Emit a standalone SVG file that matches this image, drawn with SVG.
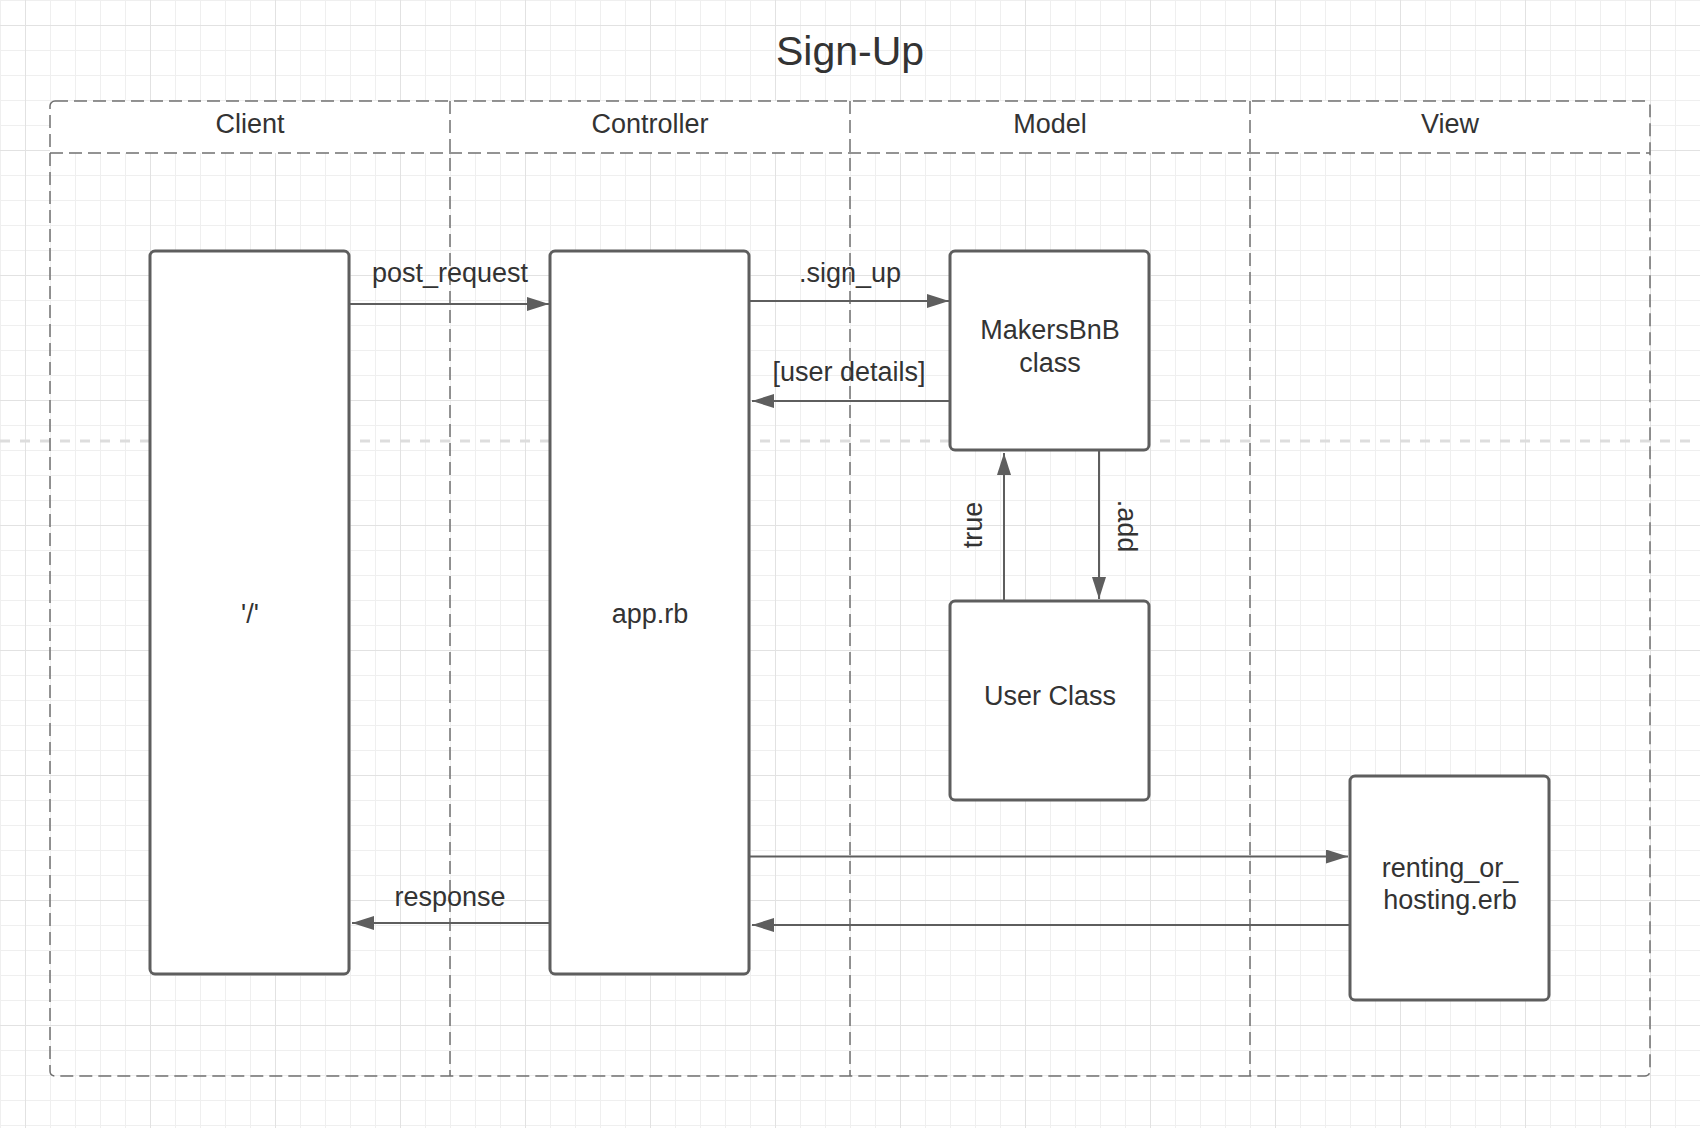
<svg xmlns="http://www.w3.org/2000/svg" width="1700" height="1128" viewBox="0 0 1700 1128">
  <defs>
    <pattern id="grid" patternUnits="userSpaceOnUse" x="0" y="0" width="125" height="125">
      <rect width="125" height="125" fill="#ffffff"/>
      <g fill="#efefef">
        <rect x="0" y="0" width="1" height="125"/>
        <rect x="50" y="0" width="1" height="125"/>
        <rect x="75" y="0" width="1" height="125"/>
        <rect x="100" y="0" width="1" height="125"/>
        <rect x="0" y="0" width="125" height="1"/>
        <rect x="0" y="50" width="125" height="1"/>
        <rect x="0" y="75" width="125" height="1"/>
        <rect x="0" y="100" width="125" height="1"/>
      </g>
      <g fill="#e2e2e2">
        <rect x="25" y="0" width="1" height="125"/>
        <rect x="0" y="25" width="125" height="1"/>
      </g>
    </pattern>
    <marker id="arrow" markerUnits="userSpaceOnUse" markerWidth="24" markerHeight="16" refX="22" refY="7" orient="auto">
      <path d="M0,0 L22,7 L0,14 z" fill="#5e5e5e"/>
    </marker>
  </defs>
  <style>
    .lbl { font-family: "Liberation Sans", Arial, sans-serif; font-size: 27px; fill: #333333; text-anchor: middle; }
    .title { font-family: "Liberation Sans", Arial, sans-serif; font-size: 41px; fill: #333333; text-anchor: middle; }
    .box { fill: #ffffff; stroke: #5e5e5e; stroke-width: 3; }
    .lane { fill: none; stroke: #707070; stroke-width: 1.5; stroke-dasharray: 13 6; }
    .conn { fill: none; stroke: #5e5e5e; stroke-width: 2; marker-end: url(#arrow); }
  </style>

  <rect x="0" y="0" width="1700" height="1128" fill="url(#grid)"/>
  <line x1="0" y1="441" x2="1700" y2="441" stroke="#dddddd" stroke-width="3" stroke-dasharray="10 10"/>

  <text class="title" x="850" y="65">Sign-Up</text>

  <g id="swimlanes">
    <path d="M50,153 V106 Q50,101 55,101 H1645 Q1650,101 1650,106 V153 Z" fill="#ffffff"/>
    <rect class="lane" x="50" y="101" width="1600" height="975" rx="5" ry="5"/>
    <line class="lane" x1="50" y1="153" x2="1650" y2="153"/>
    <line class="lane" x1="450" y1="101" x2="450" y2="1076"/>
    <line class="lane" x1="850" y1="101" x2="850" y2="1076"/>
    <line class="lane" x1="1250" y1="101" x2="1250" y2="1076"/>
    <text class="lbl" x="250" y="133">Client</text>
    <text class="lbl" x="650" y="133">Controller</text>
    <text class="lbl" x="1050" y="133">Model</text>
    <text class="lbl" x="1450" y="133">View</text>
  </g>

  <g id="node-client">
    <rect class="box" x="150" y="251" width="199" height="723" rx="5" ry="5"/>
    <text class="lbl" x="250" y="623">'/'</text>
  </g>
  <g id="node-app">
    <rect class="box" x="550" y="251" width="199" height="723" rx="5" ry="5"/>
    <text class="lbl" x="650" y="623">app.rb</text>
  </g>
  <g id="node-makersbnb">
    <rect class="box" x="950" y="251" width="199" height="199" rx="5" ry="5"/>
    <text class="lbl" x="1050" y="339">MakersBnB</text>
    <text class="lbl" x="1050" y="372">class</text>
  </g>
  <g id="node-user">
    <rect class="box" x="950" y="601" width="199" height="199" rx="5" ry="5"/>
    <text class="lbl" x="1050" y="705">User Class</text>
  </g>
  <g id="node-view">
    <rect class="box" x="1350" y="776" width="199" height="224" rx="5" ry="5"/>
    <text class="lbl" x="1450" y="877">renting_or_</text>
    <text class="lbl" x="1450" y="909">hosting.erb</text>
  </g>

  <g id="connectors">
    <path class="conn" d="M350,304 H549"/>
    <text class="lbl" x="450" y="282">post_request</text>
    <path class="conn" d="M750,301 H949"/>
    <text class="lbl" x="850" y="282">.sign_up</text>
    <path class="conn" d="M950,401 H752"/>
    <text class="lbl" x="849" y="381">[user details]</text>
    <path class="conn" d="M1004,601 V453"/>
    <text class="lbl" transform="translate(982,525) rotate(-90)" x="0" y="0">true</text>
    <path class="conn" d="M1099,451 V599"/>
    <text class="lbl" transform="translate(1118,526) rotate(90)" x="0" y="0">.add</text>
    <path class="conn" d="M750,856.5 H1348"/>
    <path class="conn" d="M1350,925 H752"/>
    <path class="conn" d="M550,923 H352"/>
    <text class="lbl" x="450" y="906">response</text>
  </g>
</svg>
